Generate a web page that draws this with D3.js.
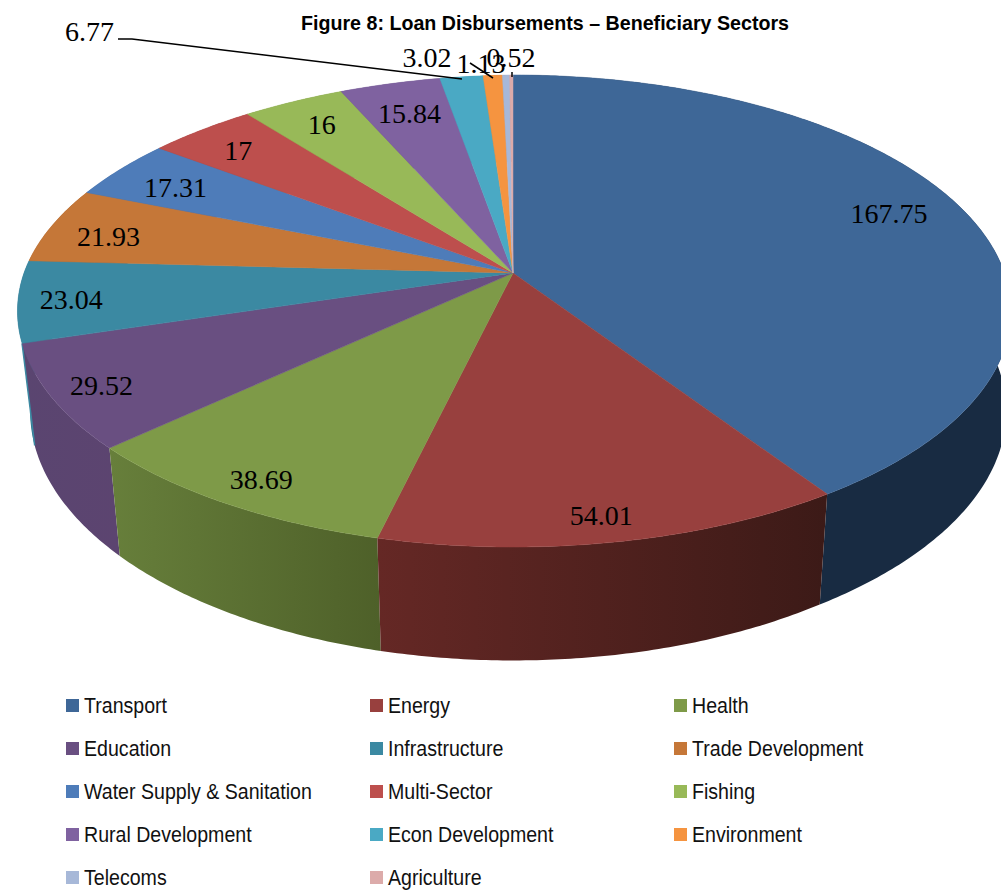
<!DOCTYPE html>
<html>
<head>
<meta charset="utf-8">
<script src="https://cdn.jsdelivr.net/npm/d3@7"></script>
<style>
    html, body { margin: 0; padding: 0; background: #fff; overflow: hidden; }
    svg { display: block; }
</style>
</head>
<body>
<div id="chart"></div>
<script>
// chart data
var sectors = ["Transport", "Energy", "Health", "Education", "Infrastructure", "Trade Development",
    "Water Supply & Sanitation", "Multi-Sector", "Fishing", "Rural Development", "Econ Development",
    "Environment", "Telecoms", "Agriculture"];
var values = [167.75, 54.01, 38.69, 29.52, 23.04, 21.93, 17.31, 17, 16, 15.84, 6.77, 3.02, 1.13, 0.52];
var valueLabels = ["167.75", "54.01", "38.69", "29.52", "23.04", "21.93", "17.31", "17", "16", "15.84", "6.77", "3.02", "1.13", "0.52"];
var title = "Figure 8: Loan Disbursements \u2013 Beneficiary Sectors";

// styles
var topColors = ["#3e6797", "#98403e", "#7e9a48", "#694f81", "#3b89a2", "#c57738",
    "#4e7cb9", "#bd4f4d", "#98b958", "#7f62a0", "#4aa9c4", "#f59440", "#a7b8d8", "#dcabaa"];
var wallLeft = ["#182b42", "#652825", "#677f3b", "#5a4570", "#2f6f84"];
var wallRight = ["#182b42", "#3c1a17", "#4e6029", "#5c4470", "#2f6f84"];
var labelRadius = [0.83, 0.92, 0.9, 0.9, 0.9, 0.87, 0.85, 0.85, 0.85, 0.82];
var labelDx = [0, -4, 3, 0, 3, -2, 0, -6, -1, 0];
var labelDy = [-6, -1, 3, 2, 2, 6, 4, 2, 1, 0];

var w = 1001;
var h = 891;
// the pie lies in a tilted plane, so a point of the unit circle goes through a perspective mapping
var apexX = 513, apexY = 273, radiusX = 491.5, radiusY = 229.9, persp = -0.161;
// the bottom rim shrinks toward a far point, near parts of the wall look a bit taller
var vanishX = 515, bottomScale = 0.9745;

function project(angle, r) {
    var u = r * Math.sin(angle);
    var v = -r * Math.cos(angle);
    var den = 1 + persp * v;
    // upper left of the rim sits a little inside the plain mapping
    var pullX = u < 0 ? -u * 2.5 : 0;
    var pullY = u < 0 && v < 0 ? u * v * 5 : 0;
    return [apexX + radiusX * u / den + pullX, apexY + radiusY * v / den + pullY];
}
function lower(p) {
    var dx = p[0] - vanishX;
    var extra = Math.max(0, dx - 300) * 0.04;
    return [vanishX + dx * bottomScale + extra, p[1] + 82.8 + 0.056 * p[1]];
}
function rim(a0, a1) {
    var n = Math.max(2, Math.ceil((a1 - a0) / 0.01));
    return d3.range(n + 1).map(function (i) {
        return project(a0 + (a1 - a0) * i / n, 1);
    });
}

var svg = d3.select("#chart").append("svg").attr("width", w).attr("height", h);
var defs = svg.append("defs");
var line = d3.line();

var arcs = d3.pie().sort(null).startAngle(0).endAngle(2 * Math.PI)(values);

// walls first, far ones before near ones
var wallOrder = arcs.slice().sort(function (a, b) {
    var ma = (a.startAngle + a.endAngle) / 2, mb = (b.startAngle + b.endAngle) / 2;
    return Math.cos(mb) - Math.cos(ma);
});
wallOrder.forEach(function (d) {
    var top = rim(d.startAngle, d.endAngle);
    var outline = top.concat(top.map(lower).reverse());
    var fill = d3.color(topColors[d.index]).darker(0.8).formatHex();
    if (d.index < wallLeft.length) {
        var id = "wall" + d.index;
        var g = defs.append("linearGradient").attr("id", id).attr("gradientUnits", "userSpaceOnUse")
            .attr("x1", d3.min(outline, p => p[0])).attr("x2", d3.max(outline, p => p[0]))
            .attr("y1", 0).attr("y2", 0);
        g.append("stop").attr("offset", 0).attr("stop-color", wallLeft[d.index]);
        g.append("stop").attr("offset", 1).attr("stop-color", wallRight[d.index]);
        fill = "url(#" + id + ")";
    }
    svg.append("path").attr("d", line(outline) + "Z").attr("fill", fill);
});

// thin edge of the Infrastructure wall that shows beside the Education wall
var edge = project(arcs[4].startAngle, 1);
svg.append("path").attr("d", line([edge, lower(edge)]))
    .attr("fill", "none").attr("stroke", topColors[4]).attr("stroke-width", 1.5);

// top faces
arcs.forEach(function (d) {
    var pts = [[apexX, apexY]].concat(rim(d.startAngle, d.endAngle));
    svg.append("path").attr("d", line(pts) + "Z")
        .attr("fill", topColors[d.index])
        .attr("stroke", topColors[d.index]).attr("stroke-width", 0.5);
});

// value labels on the slices
var labelFont = "'Liberation Serif', serif";
svg.append("g").selectAll("text").data(arcs.slice(0, labelRadius.length)).enter().append("text")
    .attr("x", d => project((d.startAngle + d.endAngle) / 2, labelRadius[d.index])[0] + labelDx[d.index])
    .attr("y", d => project((d.startAngle + d.endAngle) / 2, labelRadius[d.index])[1] + 9 + labelDy[d.index])
    .attr("text-anchor", "middle")
    .attr("font-family", labelFont).attr("font-size", 28).attr("fill", "#000")
    .text(d => valueLabels[d.index]);

// small slices are labelled outside with leader lines
var calloutIndex = [10, 11, 12, 13];
var calloutX = [89.5, 427, 481, 511];
var calloutY = [41, 67, 73, 67];
svg.append("g").selectAll("text").data(calloutIndex).enter().append("text")
    .attr("x", (d, i) => calloutX[i]).attr("y", (d, i) => calloutY[i])
    .attr("text-anchor", "middle")
    .attr("font-family", labelFont).attr("font-size", 28).attr("fill", "#000")
    .text(d => valueLabels[d]);

var leaders = [
    [[118, 39], [132, 39], [462, 79]],
    [[470, 63], [493, 78]],
    [[512, 72], [512, 77]]
];
svg.append("g").selectAll("path").data(leaders).enter().append("path")
    .attr("d", d => line(d)).attr("fill", "none").attr("stroke", "#000").attr("stroke-width", 1.5);

// title
var narrow = 0.89;
svg.append("text").attr("x", 301).attr("y", 29.5)
    .attr("font-family", "'Liberation Sans', Arial, sans-serif").attr("font-weight", "bold")
    .attr("font-size", 20.5).attr("fill", "#000").text(title)
    .attr("textLength", 488).attr("lengthAdjust", "spacingAndGlyphs");

// legend, filled row by row in three columns
var colX = d3.scalePoint().domain([0, 1, 2]).range([66, 674]);
var rowY = d3.scalePoint().domain([0, 1, 2, 3, 4]).range([699, 871]);
var legend = svg.append("g").selectAll("g").data(sectors).enter().append("g")
    .attr("transform", (d, i) => "translate(" + colX(i % 3) + "," + rowY(Math.floor(i / 3)) + ")");
legend.append("rect").attr("width", 13).attr("height", 13).attr("fill", (d, i) => topColors[i]);
legend.append("text").attr("x", 18).attr("y", 13.5)
    .attr("font-family", "'Liberation Sans', Arial, sans-serif")
    .attr("font-size", 22).attr("fill", "#111").text(d => d)
    .each(function () {
        d3.select(this).attr("textLength", this.getComputedTextLength() * narrow)
            .attr("lengthAdjust", "spacingAndGlyphs");
    });
</script>
</body>
</html>
